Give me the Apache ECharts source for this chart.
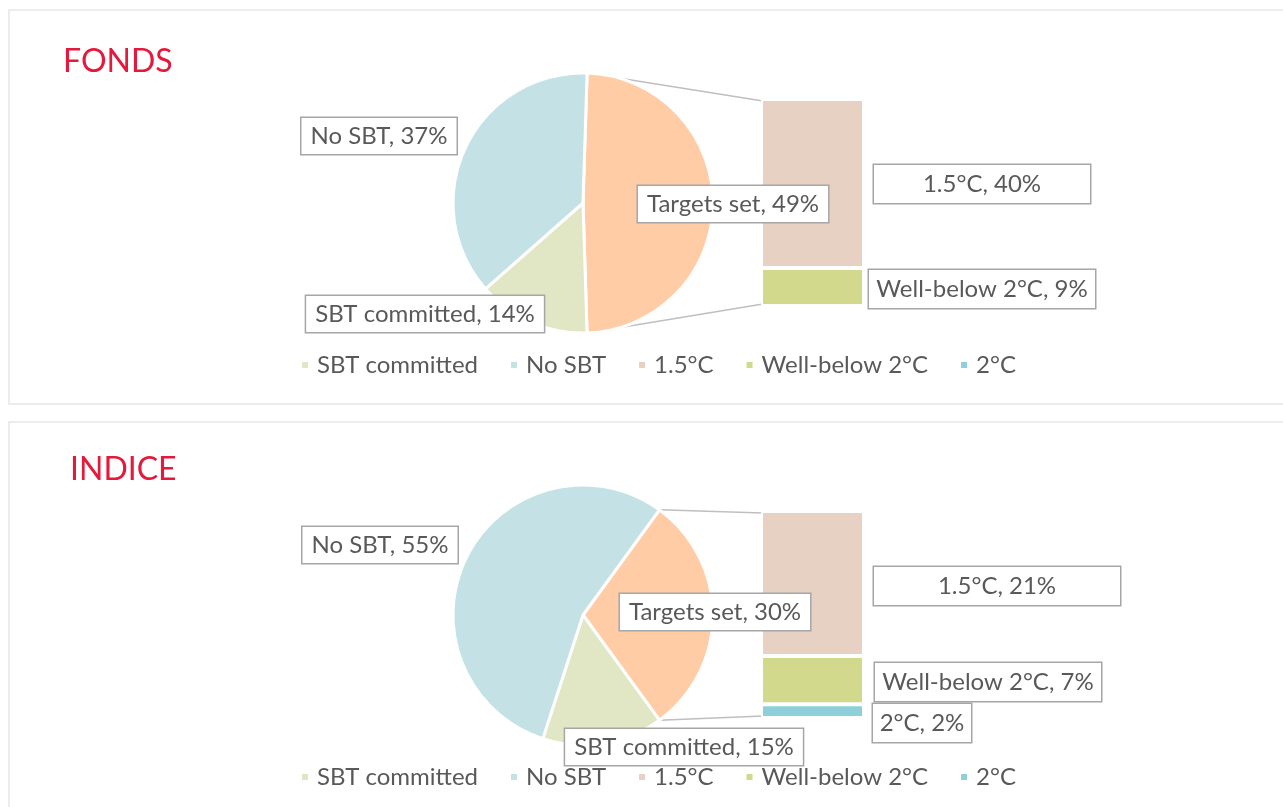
<!DOCTYPE html>
<html>
<head>
<meta charset="utf-8">
<script src="https://cdn.jsdelivr.net/npm/echarts@6/dist/echarts.min.js"></script>
<style>
html, body { margin: 0; padding: 0; background: #fff; overflow: hidden; }
.panel { position: absolute; left: 8px; width: 1300px; border: 2px solid #ececec; background: #fff; }
#main { position: absolute; left: 0; top: 0; width: 1283px; height: 807px; }
</style>
</head>
<body>
<div class="panel" style="top:9px;height:392px"></div>
<div class="panel" style="top:421px;height:400px"></div>
<div id="main"></div>
<script>
// pie slices, clockwise from the split slice
var pieNames = ['Targets set', 'SBT committed', 'No SBT'];
var fondsPie = [49, 14, 37];
var indicePie = [30, 15, 55];

// bar of pie, top to bottom
var barNames = ['1.5°C', 'Well-below 2°C', '2°C'];
var fondsBar = [40, 9, 0];
var indiceBar = [21, 7, 2];

var legendNames = ['SBT committed', 'No SBT', '1.5°C', 'Well-below 2°C', '2°C'];

var pieColors = { 'Targets set': '#ffcca5', 'SBT committed': '#e1e6c4', 'No SBT': '#c4e1e6' };
var barColors = { '1.5°C': '#e6d1c3', 'Well-below 2°C': '#d2d98c', '2°C': '#8dd0da' };

var FONT = 'Lato';
var TXT = '#595959';
var R = 130;

var panels = [
    {
        title: 'FONDS', titleLeft: 63, titleTop: 46,
        pie: fondsPie, bar: fondsBar,
        center: [583, 203],
        grid: { left: 761, top: 99, width: 103, height: 207 },
        pieLabels: [[733, 204], [425, 314], [379, 136]],
        barLabels: [[982, 184, 219], [982, 289, 229], [922, 309, 101]],
        legendTop: 353
    },
    {
        title: 'INDICE', titleLeft: 70, titleTop: 454,
        pie: indicePie, bar: indiceBar,
        center: [583, 615],
        grid: { left: 761, top: 511, width: 103, height: 207 },
        pieLabels: [[715, 612], [684, 747], [380, 545]],
        barLabels: [[997, 586, 249], [988, 682, 229], [922, 723, 101]],
        legendTop: 765
    }
];

var boxLabel = {
    fontFamily: FONT,
    fontSize: 24,
    lineHeight: 24,
    color: TXT,
    backgroundColor: '#fff',
    borderColor: '#a6a6a6',
    borderWidth: 1.5,
    padding: [6, 9]
};

var titles = [], legends = [], grids = [], xAxes = [], yAxes = [], series = [], graphics = [];

panels.forEach(function (p, i) {
    var sum = p.pie.reduce(function (a, b) { return a + b; }, 0);
    var half = p.pie[0] / sum * 180;

    titles.push({
        text: p.title, left: p.titleLeft, top: p.titleTop, padding: 0,
        textStyle: { fontFamily: FONT, fontSize: 32, fontWeight: 'normal', color: '#e4193c' }
    });

    legends.push({
        data: legendNames, left: 300, top: p.legendTop, padding: 0,
        icon: 'rect', itemWidth: 8, itemHeight: 8, itemGap: 31,
        selectedMode: false,
        textStyle: { fontFamily: FONT, fontSize: 24, color: TXT, padding: [0, 0, 0, 3] }
    });

    series.push({
        type: 'pie',
        center: p.center,
        radius: R,
        startAngle: half,
        clockwise: true,
        avoidLabelOverlap: false,
        animation: false,
        itemStyle: { borderColor: '#fff', borderWidth: 3 },
        emphasis: { scale: false },
        label: Object.assign({
            formatter: function (d) { return d.name + ', ' + d.value + '%'; }
        }, boxLabel),
        labelLine: { show: false },
        labelLayout: function (params) {
            var c = p.pieLabels[params.dataIndex];
            return { x: c[0], y: c[1], align: 'center', verticalAlign: 'middle' };
        },
        data: pieNames.map(function (n, k) {
            return { name: n, value: p.pie[k], itemStyle: { color: pieColors[n] } };
        })
    });

    grids.push(p.grid);
    xAxes.push({ type: 'category', gridIndex: i, data: [''], show: false });
    yAxes.push({ type: 'value', gridIndex: i, min: 0, max: p.pie[0], show: false });

    // stacked from the bottom up
    for (var k = barNames.length - 1; k >= 0; k--) {
        var n = barNames[k];
        var v = p.bar[k];
        var bl = p.barLabels[k];
        series.push({
            type: 'bar',
            name: n,
            xAxisIndex: i,
            yAxisIndex: i,
            stack: 'sub' + i,
            barWidth: '100%',
            animation: false,
            itemStyle: { color: barColors[n], borderColor: '#fff', borderWidth: 2 },
            label: Object.assign({}, boxLabel, {
                show: v > 0,
                width: bl[2] - 3,
                align: 'center',
                padding: [7, 0],
                formatter: function (d) { return d.seriesName + ', ' + d.value + '%'; }
            }),
            labelLayout: { x: bl[0], y: bl[1], align: 'center', verticalAlign: 'middle' },
            data: [v]
        });
    }

    // connector lines from the split slice to the bar corners
    var a = half * Math.PI / 180;
    var bx = p.grid.left + 2;
    var byTop = p.grid.top + 2;
    var byBot = p.grid.top + p.grid.height - 2;
    graphics.push({
        type: 'line', z: 1, silent: true,
        shape: { x1: p.center[0] + R * Math.cos(a), y1: p.center[1] - R * Math.sin(a), x2: bx, y2: byTop },
        style: { stroke: '#bfbfbf', lineWidth: 1.5 }
    });
    graphics.push({
        type: 'line', z: 1, silent: true,
        shape: { x1: p.center[0] + R * Math.cos(a), y1: p.center[1] + R * Math.sin(a), x2: bx, y2: byBot },
        style: { stroke: '#bfbfbf', lineWidth: 1.5 }
    });
});

var myChart = echarts.init(document.getElementById('main'));
myChart.setOption({
    animation: false,
    title: titles,
    legend: legends,
    grid: grids,
    xAxis: xAxes,
    yAxis: yAxes,
    graphic: graphics,
    series: series
});
</script>
</body>
</html>
